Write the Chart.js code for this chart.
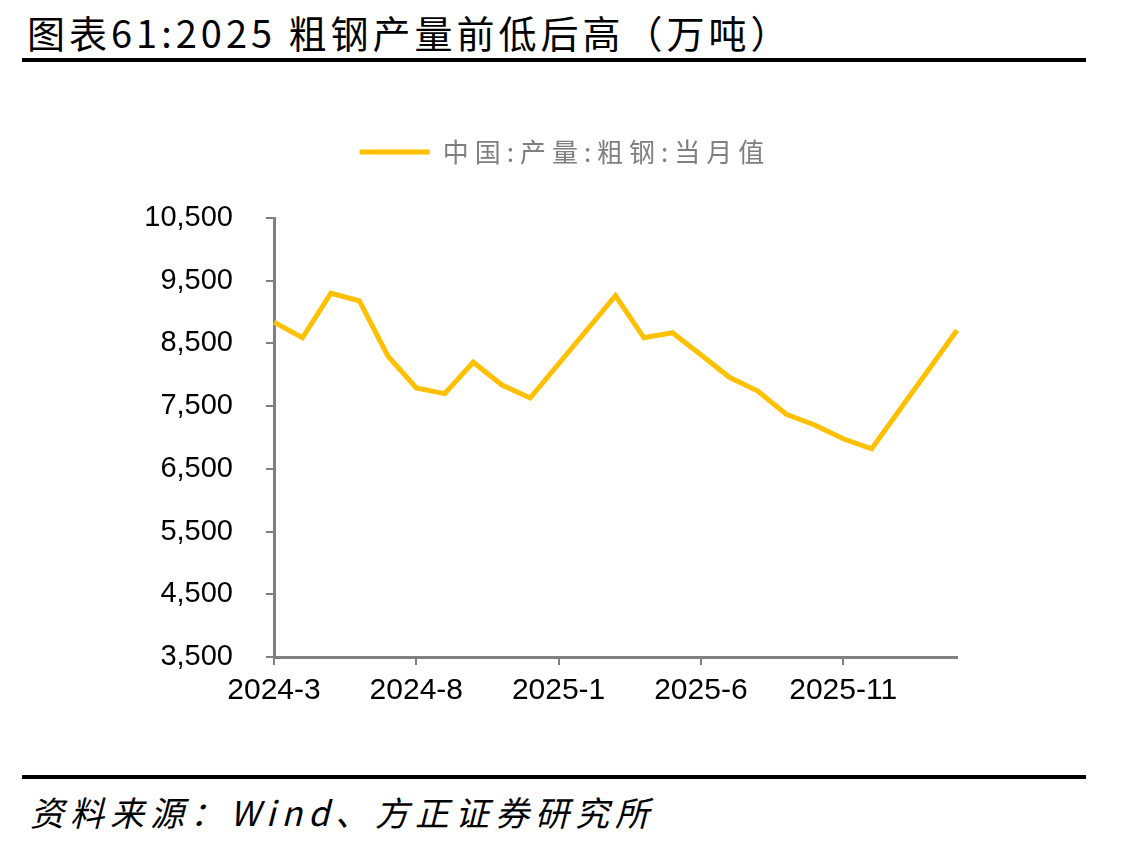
<!DOCTYPE html>
<html>
<head>
<meta charset="utf-8">
<script src="https://cdn.jsdelivr.net/npm/chart.js@4.4.1/dist/chart.umd.min.js"></script>
<style>
  html, body { margin: 0; padding: 0; background: #fff; }
  #page { position: relative; width: 1130px; height: 848px; overflow: hidden; background: #fff; }
  #title { position: absolute; left: 27px; top: 4px; font: 38px "Noto Sans CJK SC", sans-serif; color: #000; white-space: nowrap; letter-spacing: 4px; }
  .rule { position: absolute; left: 22px; width: 1064px; height: 4px; background: #000; }
  #src { position: absolute; left: 30px; top: 787px; font: italic 34px "Noto Sans CJK SC", sans-serif; color: #000; white-space: nowrap; letter-spacing: 6px; }
  #wrap { position: absolute; left: 0; top: 100px; width: 1130px; height: 620px; }
</style>
</head>
<body>
<div id="page">
  <div id="title">图表61:2025 粗钢产量前低后高（万吨）</div>
  <div class="rule" style="top:58px"></div>
  <div id="wrap"><canvas id="c"></canvas></div>
  <div class="rule" style="top:775px"></div>
  <div id="src">资料来源：Wind、方正证券研究所</div>
</div>
<script>
// months 2024-3 .. 2026-3 ; Jan/Feb are reported combined, so left empty
const months = ['2024-3','2024-4','2024-5','2024-6','2024-7','2024-8','2024-9','2024-10','2024-11','2024-12',
                '2025-1','2025-2','2025-3','2025-4','2025-5','2025-6','2025-7','2025-8','2025-9','2025-10',
                '2025-11','2025-12','2026-1','2026-2','2026-3'];
const crudeSteel = [8840, 8590, 9300, 9180, 8300, 7790, 7700, 8200, 7840, 7630,
                    null, null, 9260, 8590, 8670, 8320, 7960, 7740, 7370, 7200,
                    6980, 6820, null, null, 8710];
const seriesName = '中国:产量:粗钢:当月值';
const yTicks = [3500, 4500, 5500, 6500, 7500, 8500, 9500, 10500];
const labelEvery = 5;

const GRAY = '#808080';
const YELLOW = '#FFC000';
const LEGEND_SPACING = '6px';

// legend: wider letter spacing, and extra room between it and the plot
const legendTweak = {
  id: 'legendTweak',
  beforeInit(chart) {
    const lg = chart.legend, fit = lg.fit, draw = lg.draw;
    lg.fit = function () {
      const c = this.ctx; c.letterSpacing = LEGEND_SPACING;
      fit.call(this); c.letterSpacing = '0px';
      this.height += 43;
    };
    lg.draw = function () {
      const c = this.ctx; c.letterSpacing = LEGEND_SPACING;
      draw.call(this); c.letterSpacing = '0px';
    };
  },
  beforeDraw(chart) { chart.ctx.letterSpacing = '0px'; }
};

new Chart(document.getElementById('c'), {
  type: 'line',
  data: {
    labels: months,
    datasets: [{ label: seriesName, data: crudeSteel, borderColor: YELLOW, backgroundColor: YELLOW,
                 borderWidth: 5, pointRadius: 0, tension: 0, spanGaps: true, borderJoinStyle: 'miter' }]
  },
  options: {
    responsive: true, maintainAspectRatio: false, animation: false,
    layout: { padding: { top: 29, right: 0, left: 0, bottom: 0 } },
    plugins: {
      legend: {
        position: 'top',
        labels: { usePointStyle: true, pointStyle: 'line', pointStyleWidth: 70, boxWidth: 70, boxHeight: 26,
                  padding: 10, color: '#7f7f7f', font: { family: '"Noto Sans CJK SC", sans-serif', size: 26 } }
      },
      tooltip: { enabled: false }
    },
    scales: {
      x: {
        offset: false,
        grid: { display: true, drawOnChartArea: false, drawTicks: true, tickLength: 8, color: GRAY, lineWidth: 2 },
        border: { color: GRAY, width: 3 },
        afterBuildTicks: (s) => { s.ticks = s.ticks.filter((t, i) => i % labelEvery === 0); },
        afterFit: (s) => { s.height = 63; s.paddingRight = 173; s.paddingLeft = 0; },
        ticks: { autoSkip: false, maxRotation: 0, color: '#000', padding: 8,
                 font: { family: '"Liberation Sans", Arial, sans-serif', size: 30 } }
      },
      y: {
        min: 3500, max: 10500,
        afterBuildTicks: (s) => { s.ticks = yTicks.map((v) => ({ value: v })); },
        afterFit: (s) => { s.width = 274; },
        grid: { display: true, drawOnChartArea: false, drawTicks: true, tickLength: 8, color: GRAY, lineWidth: 2 },
        border: { color: GRAY, width: 3 },
        ticks: { color: '#000', padding: 33, callback: (v) => v.toLocaleString('en-US'),
                 font: { family: '"Liberation Sans", Arial, sans-serif', size: 29 } }
      }
    }
  },
  plugins: [legendTweak]
});
</script>
</body>
</html>
